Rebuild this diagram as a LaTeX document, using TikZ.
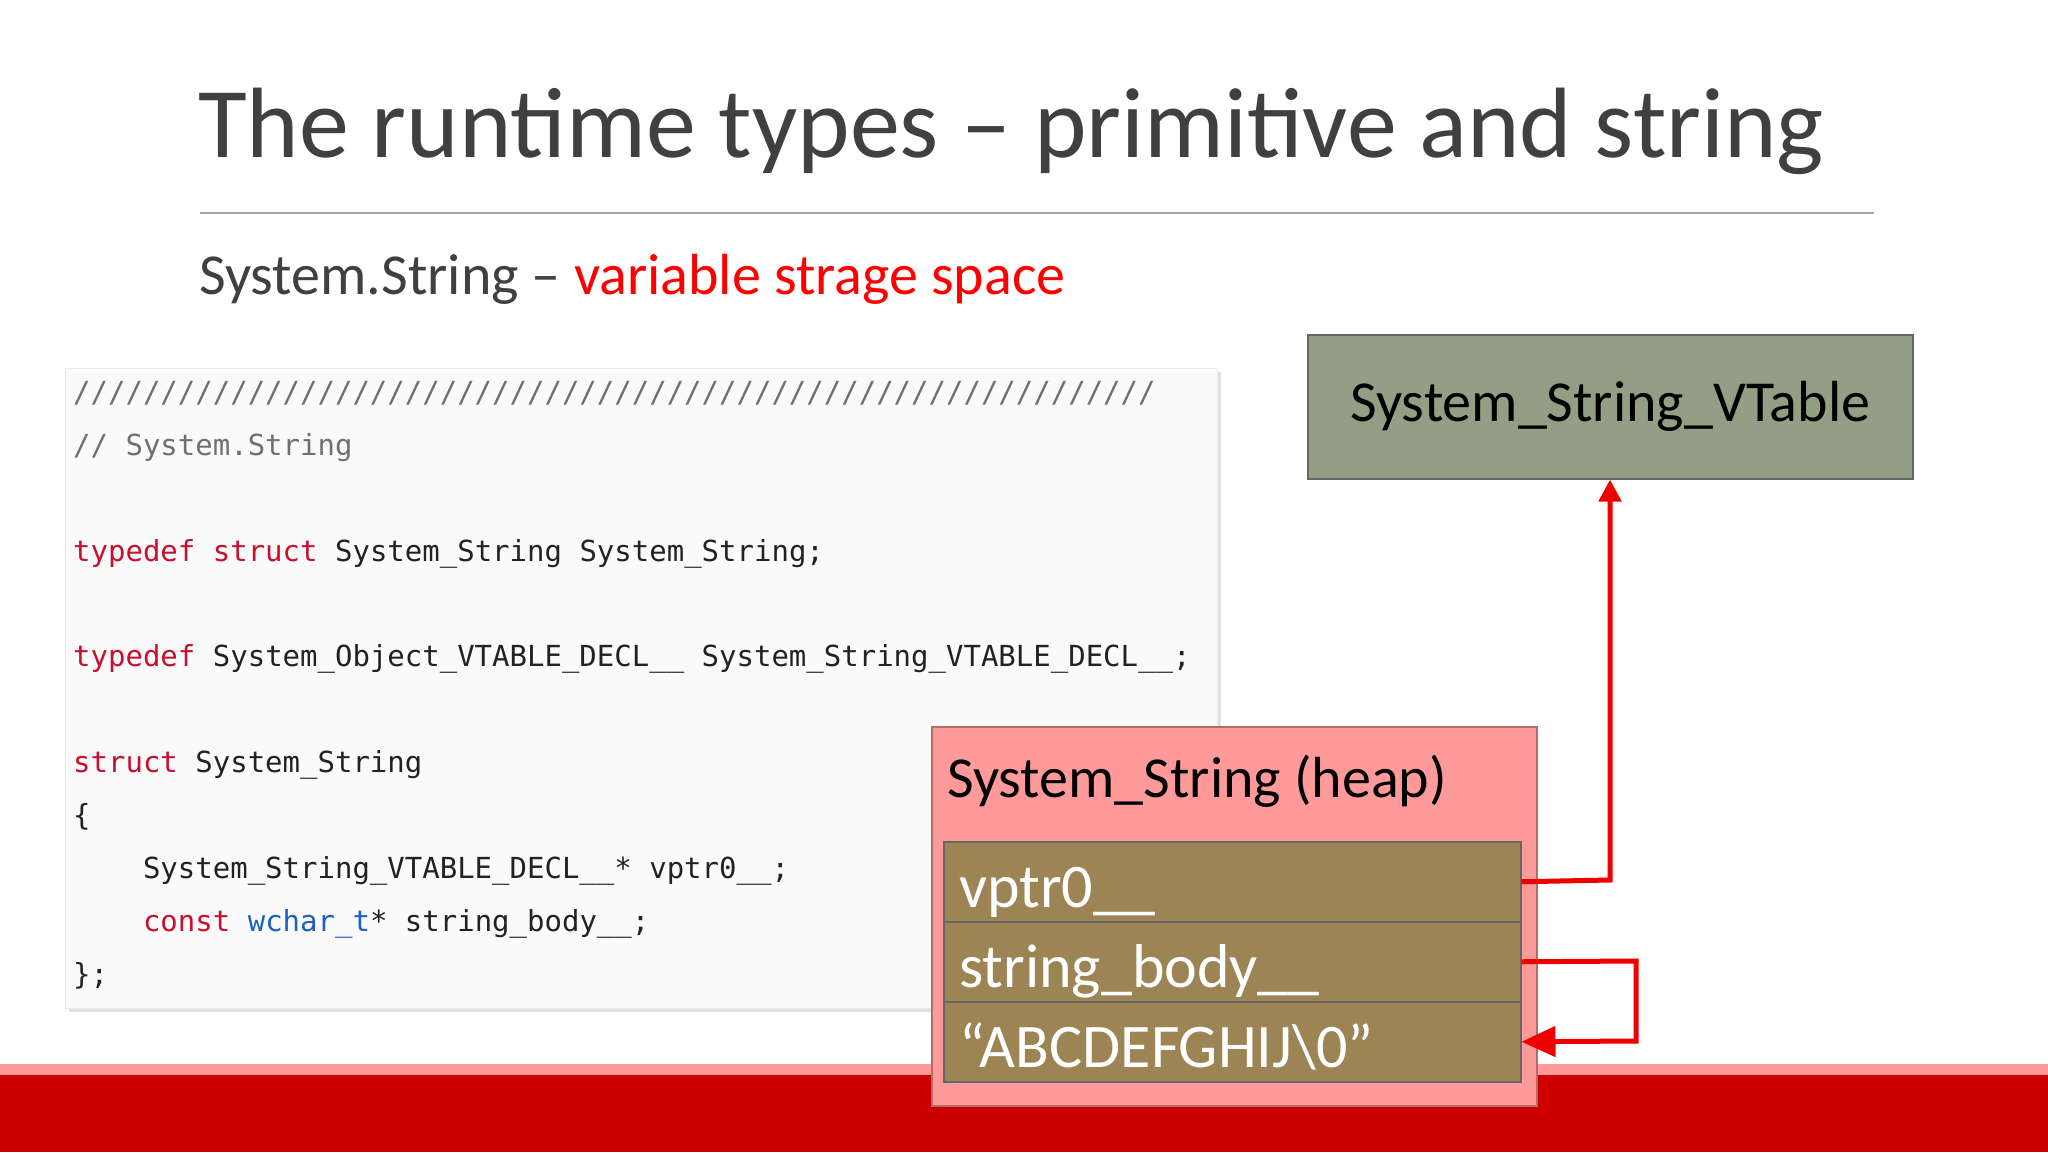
\documentclass[tikz,border=0pt]{standalone}
\usepackage{fontspec}
\setmainfont{Carlito}
\setmonofont{DejaVu Sans Mono}
\usetikzlibrary{arrows.meta}
\definecolor{ttl}{HTML}{404040}
\definecolor{kw}{HTML}{C8102E}
\definecolor{cm}{HTML}{707070}
\definecolor{bl}{HTML}{1F5FBF}
\definecolor{tx}{HTML}{222222}
\definecolor{vt}{HTML}{939E85}
\definecolor{hp}{HTML}{FF9A9A}
\definecolor{rw}{HTML}{9C8455}
\definecolor{barred}{HTML}{CC0000}
\definecolor{arr}{HTML}{EE0000}
\tikzset{
 codeline/.style={anchor=base west,inner sep=0pt,font=\ttfamily\fontsize{29}{34}\selectfont,text=tx},
 rowbox/.style={draw=black!60,line width=1.5pt,fill=rw,minimum width=577pt,minimum height=80pt,anchor=north west,inner sep=0pt},
 rowtext/.style={anchor=base west,inner sep=0pt,text=white,font=\fontsize{62}{70}\selectfont},
 conn/.style={draw=arr,line width=5pt,-{Triangle[length=22pt,width=22pt]}}
}
\begin{document}
\begin{tikzpicture}[x=1pt,y=-1pt]
\useasboundingbox (0,0) rectangle (2048,1152);
\fill[white] (0,0) rectangle (2048,1152);
% bottom bar
\fill[barred] (0,1064) rectangle (2048,1152);
\fill[hp] (0,1064) rectangle (2048,1075);
% title
\node[anchor=base west,inner sep=0pt,text=ttl,font=\fontsize{100}{120}\selectfont] (title) at (198,157) {The runtime types – primitive and string};
\draw[black!35,line width=1.5pt] (200,213) -- (1874,213);
\node[anchor=base west,inner sep=0pt,text=ttl,font=\fontsize{58}{70}\selectfont] (sub) at (199,294) {System.String – \textcolor{red}{variable strage space}};
% code box
\fill[black!12] (69,372) rectangle (1221,1012);
\node[draw=black!8,fill=black!2,minimum width=1152pt,minimum height=640pt,anchor=north west,inner sep=0pt] (code) at (65,368) {};
\node[codeline,text=cm] (l1) at (73,402) {//////////////////////////////////////////////////////////////};
\node[codeline,text=cm] (l2) at (73,455) {// System.String};
\node[codeline] (l3) at (73,561) {\textcolor{kw}{typedef struct} System\_String System\_String;};
\node[codeline] (l4) at (73,666) {\textcolor{kw}{typedef} System\_Object\_VTABLE\_DECL\_\_ System\_String\_VTABLE\_DECL\_\_;};
\node[codeline] (l5) at (73,772) {\textcolor{kw}{struct} System\_String};
\node[codeline] (l6) at (73,825) {\{};
\node[codeline] (l7) at (73,878) {\ \ \ \ System\_String\_VTABLE\_DECL\_\_* vptr0\_\_;};
\node[codeline] (l8) at (73,931) {\ \ \ \ \textcolor{kw}{const} \textcolor{bl}{wchar\_t}* string\_body\_\_;};
\node[codeline] (l9) at (73,984) {\};};
% vtable
\node[draw=black!60,line width=1.5pt,fill=vt,minimum width=605pt,minimum height=144pt,anchor=north west,inner sep=0pt,font=\fontsize{58}{70}\selectfont] (vt) at (1307,334) {System\_String\_VTable};
% heap
\node[draw=hp!70!black,line width=1.5pt,fill=hp,minimum width=605pt,minimum height=379pt,anchor=north west,inner sep=0pt] (heap) at (931,726) {};
\node[anchor=base west,inner sep=0pt,font=\fontsize{58}{70}\selectfont] (htitle) at (947,797) {System\_String (heap)};
\node[rowbox] (r1) at (943,841) {};
\node[rowbox] (r2) at (943,921) {};
\node[rowbox] (r3) at (943,1001) {};
\node[rowtext] at ([xshift=16pt,yshift=-26pt]r1.west) {vptr0\_\_};
\node[rowtext] at ([xshift=16pt,yshift=-26pt]r2.west) {string\_body\_\_};
\node[rowtext] at ([xshift=16pt,yshift=-26pt]r3.west) {“ABCDEFGHIJ\textbackslash 0”};
% connectors
\coordinate (c1) at (1610,880);
\draw[conn] (r1.east) -- (c1) -- (vt.south -| c1);
\coordinate (c2) at (1636,961);
\coordinate (c3) at (1636,1041);
\draw[conn,-{Triangle[length=34pt,width=30pt]}] (r2.east) -- (c2) -- (c3) -- (r3.east);
\end{tikzpicture}
\end{document}
